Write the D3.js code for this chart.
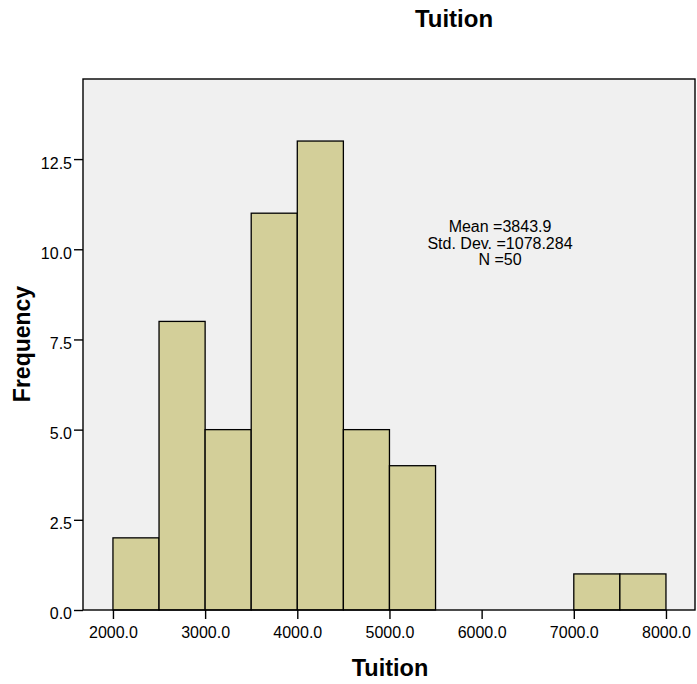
<!DOCTYPE html>
<html><head><meta charset="utf-8">
<script src="https://cdn.jsdelivr.net/npm/d3@7"></script>
<style>body{margin:0;background:#fff}svg{display:block}text{font-family:"Liberation Sans",Arial,sans-serif}</style>
</head><body>
<svg id="c" width="697" height="684"></svg>
<script>
const binStarts = [2000, 2500, 3000, 3500, 4000, 4500, 5000, 7000, 7500];
const binWidth = 500;
const counts = [2, 8, 5, 11, 13, 5, 4, 1, 1];
const xTicks = [2000, 3000, 4000, 5000, 6000, 7000, 8000];
const yTicks = [0, 2.5, 5, 7.5, 10, 12.5];
const statsLines = ["Mean =3843.9", "Std. Dev. =1078.284", "N =50"];

const svg = d3.select("#c");
const L = 83, R = 695, T = 79, B = 610;
const x = d3.scaleLinear().domain([1675, 8315]).range([L, R]);
const y = d3.scaleLinear().domain([0, 14.72]).range([B, T]);

svg.append("rect").attr("x", L).attr("y", T).attr("width", R - L).attr("height", B - T)
  .attr("fill", "#f0f0f0");

svg.append("g").selectAll("rect").data(binStarts).join("rect")
  .attr("x", (d) => x(d)).attr("width", (d) => x(d + binWidth) - x(d))
  .attr("y", (d, i) => y(counts[i])).attr("height", (d, i) => y(0) - y(counts[i]))
  .attr("fill", "#d3cf99").attr("stroke", "#000").attr("stroke-width", 1.3);

svg.append("rect").attr("x", L).attr("y", T).attr("width", R - L).attr("height", B - T)
  .attr("fill", "none").attr("stroke", "#000").attr("stroke-width", 1.4);

const xAxis = svg.append("g").attr("transform", `translate(0,${B})`)
  .call(d3.axisBottom(x).tickValues(xTicks).tickFormat(d3.format(".1f")).tickSize(9).tickPadding(8));
const yAxis = svg.append("g").attr("transform", `translate(${L},0)`)
  .call(d3.axisLeft(y).tickValues(yTicks).tickFormat(d3.format(".1f")).tickSize(9).tickPadding(2));
[xAxis, yAxis].forEach(a => {
  a.select(".domain").remove();
  a.selectAll("line").attr("stroke", "#000").attr("stroke-width", 1.4);
  a.selectAll("text").attr("font-size", 16).attr("fill", "#000")
    .attr("font-family", '"Liberation Sans",Arial,sans-serif');
});
yAxis.selectAll("text").attr("dy", "0.56em");

svg.append("text").attr("x", 454).attr("y", 27).attr("text-anchor", "middle")
  .attr("font-size", 24).attr("font-weight", "bold").text("Tuition");
svg.append("text").attr("x", 390).attr("y", 676).attr("text-anchor", "middle")
  .attr("font-size", 23.5).attr("font-weight", "bold").text("Tuition");
svg.append("text").attr("transform", "translate(30,344) rotate(-90)").attr("text-anchor", "middle")
  .attr("font-size", 23).attr("font-weight", "bold").text("Frequency");

svg.append("g").selectAll("text").data(statsLines).join("text")
  .attr("x", 500).attr("y", (d, i) => 232 + i * 16.5).attr("text-anchor", "middle")
  .attr("font-size", 16).text(d => d);
</script>
</body></html>
